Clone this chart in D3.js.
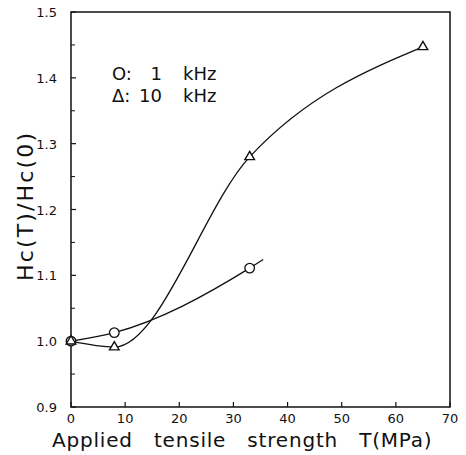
<!DOCTYPE html>
<html>
<head>
<meta charset="utf-8">
<script src="https://cdn.jsdelivr.net/npm/d3@7"></script>
<style>
  body { margin: 0; background: #fff; }
  text { font-family: "DejaVu Sans", sans-serif; fill: #111; }
</style>
</head>
<body>
<div id="chart"></div>
<script>
// data
var stress = [0, 8, 33];
var ratio1k = [1.0, 1.013, 1.111];
var fit1kEnd = [35.5, 1.124];          // where the 1 kHz fit line stops
var stress10 = [0, 8, 33, 65];
var ratio10k = [1.0, 0.991, 1.28, 1.447];
var xTicks = [0, 10, 20, 30, 40, 50, 60, 70];
var yTicks = [0.9, 1.0, 1.1, 1.2, 1.3, 1.4, 1.5];
var yMinor = [0.95, 1.05, 1.15, 1.25, 1.35, 1.45];
var legendSymbols = ["O:", "\u0394:"];
var legendFreqs = ["1", "10"];

var width = 466, height = 455;
var m = {left: 71, top: 12, right: 16, bottom: 48};

var svg = d3.select('#chart').append('svg')
  .attr('width', width).attr('height', height);

var x = d3.scaleLinear().domain([0, 70]).range([m.left, width - m.right]);
var y = d3.scaleLinear().domain([0.9, 1.5]).range([height - m.bottom, m.top]);

// frame
svg.append('rect')
  .attr('x', x(0)).attr('y', y(1.5))
  .attr('width', x(70) - x(0)).attr('height', y(0.9) - y(1.5))
  .attr('fill', 'none').attr('stroke', '#111').attr('stroke-width', 1.5);

// x ticks, pointing up
svg.selectAll('.xt').data(xTicks).enter().append('line')
  .attr('x1', function(d){ return x(d); }).attr('x2', function(d){ return x(d); })
  .attr('y1', y(0.9)).attr('y2', y(0.9) - 5)
  .attr('stroke', '#111').attr('stroke-width', 1.2);
svg.selectAll('.xl').data(xTicks).enter().append('text')
  .attr('x', function(d){ return x(d); })
  .attr('y', y(0.9) + 16)
  .attr('text-anchor', 'middle')
  .attr('font-size', 13)
  .text(function(d){ return d; });

// y ticks, pointing right
svg.selectAll('.yt').data(yTicks).enter().append('line')
  .attr('x1', x(0)).attr('x2', x(0) + 5)
  .attr('y1', function(d){ return y(d); }).attr('y2', function(d){ return y(d); })
  .attr('stroke', '#111').attr('stroke-width', 1.2);
svg.selectAll('.ym').data(yMinor).enter().append('line')
  .attr('x1', x(0)).attr('x2', x(0) + 4)
  .attr('y1', function(d){ return y(d); }).attr('y2', function(d){ return y(d); })
  .attr('stroke', '#111').attr('stroke-width', 1);
svg.selectAll('.yl').data(yTicks).enter().append('text')
  .attr('x', x(0) - 14)
  .attr('y', function(d){ return y(d) + 5; })
  .attr('text-anchor', 'end')
  .attr('font-size', 13)
  .text(function(d){ return d3.format('.1f')(d); });

// axis titles
svg.append('text')
  .attr('x', 52).attr('y', 447)
  .attr('font-size', 20)
  .attr('word-spacing', 14)
  .attr('letter-spacing', 0.8)
  .text('Applied tensile strength T(MPa)');
svg.append('text')
  .attr('transform', 'translate(33,207) rotate(-90)')
  .attr('text-anchor', 'middle')
  .attr('font-size', 22)
  .attr('textLength', 148)
  .attr('lengthAdjust', 'spacing')
  .text('Hc(T)/Hc(0)');

// curves
var line = d3.line()
  .x(function(d){ return x(d[0]); })
  .y(function(d){ return y(d[1]); })
  .curve(d3.curveMonotoneX);

var pts1 = stress.map(function(s, i){ return [s, ratio1k[i]]; });
var pts10 = stress10.map(function(s, i){ return [s, ratio10k[i]]; });

svg.append('path')
  .attr('d', line(pts1.concat([fit1kEnd])))
  .attr('fill', 'none').attr('stroke', '#111').attr('stroke-width', 1.3);
svg.append('path')
  .attr('d', line(pts10))
  .attr('fill', 'none').attr('stroke', '#111').attr('stroke-width', 1.3);

// markers
svg.selectAll('.c1').data(pts1).enter().append('circle')
  .attr('cx', function(d){ return x(d[0]); })
  .attr('cy', function(d){ return y(d[1]); })
  .attr('r', 4.8)
  .attr('fill', '#fff').attr('stroke', '#111').attr('stroke-width', 1.3);

var tri = d3.symbol().type(d3.symbolTriangle).size(40);
svg.selectAll('.t10').data(pts10).enter().append('path')
  .attr('d', tri)
  .attr('transform', function(d){ return 'translate(' + x(d[0]) + ',' + y(d[1]) + ')'; })
  .attr('fill', '#fff').attr('stroke', '#111').attr('stroke-width', 1.4);

// legend
var leg = svg.selectAll('.leg').data(legendSymbols).enter().append('g')
  .attr('transform', function(d, i){ return 'translate(0,' + (80 + i * 22) + ')'; });
leg.append('text').attr('x', 112).attr('font-size', 18)
  .text(function(d){ return d; });
leg.append('text').attr('x', 162).attr('font-size', 18)
  .attr('text-anchor', 'end')
  .text(function(d, i){ return legendFreqs[i]; });
leg.append('text').attr('x', 183).attr('font-size', 18)
  .text('kHz');
</script>
</body>
</html>
